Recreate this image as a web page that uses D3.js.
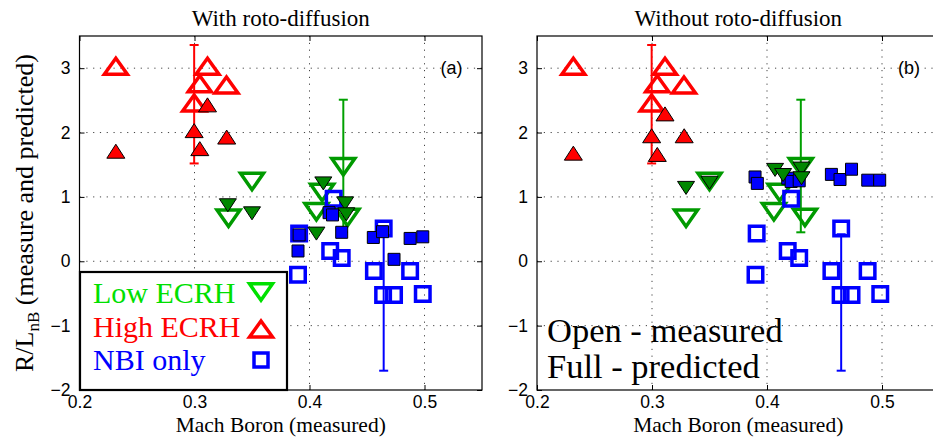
<!DOCTYPE html>
<html><head><meta charset="utf-8">
<script src="https://cdn.jsdelivr.net/npm/d3@7"></script>
<style>body{margin:0;background:#fff}svg{display:block}</style>
</head><body><svg id="chart" width="933" height="437"></svg>
<script>
// Axis ticks
const xTicks = [0.2, 0.3, 0.4, 0.5];
const yTicks = [-2, -1, 0, 1, 2, 3];
const panelTitles = ["With roto-diffusion", "Without roto-diffusion"];
const panelTags = ["(a)", "(b)"];

// Measured values (open markers), identical in both panels: [Mach, R/L_nB]
const lowEcrhMeasured  = [[0.3296,0.67],[0.350,1.24],[0.4294,1.47],[0.411,1.07],[0.406,0.77],[0.433,0.68]];
const highEcrhMeasured = [[0.2316,3.03],[0.3113,3.03],[0.3046,2.76],[0.3278,2.74],[0.2997,2.46]];
const nbiMeasured      = [[0.391,0.43],[0.390,-0.21],[0.418,0.16],[0.428,0.05],[0.421,0.97],[0.456,-0.15],
                          [0.4645,0.51],[0.464,-0.525],[0.4735,-0.525],[0.4875,-0.15],[0.4985,-0.51]];

// Predicted values with roto-diffusion (filled markers, panel a)
const lowEcrhPredA  = [[0.329,0.87],[0.350,0.745],[0.412,1.21],[0.431,0.90],[0.432,0.73],[0.406,0.43]];
const highEcrhPredA = [[0.3113,2.43],[0.2997,2.03],[0.328,1.93],[0.2316,1.71],[0.3046,1.75]];
const nbiPredA      = [[0.391,0.41],[0.390,0.16],[0.417,0.755],[0.420,0.72],[0.428,0.45],[0.4555,0.37],
                       [0.4635,0.46],[0.4735,0.03],[0.4875,0.355],[0.4985,0.38]];

// Predicted values without roto-diffusion (filled markers, panel b)
const lowEcrhPredB  = [[0.3296,1.14],[0.350,1.22],[0.407,1.42],[0.414,1.34],[0.430,1.44],[0.430,1.29]];
const highEcrhPredB = [[0.3113,2.29],[0.2997,1.95],[0.328,1.95],[0.2316,1.68],[0.3046,1.66]];
const nbiPredB      = [[0.3896,1.31],[0.3916,1.21],[0.418,1.29],[0.421,1.24],[0.428,1.25],[0.456,1.35],
                       [0.4635,1.27],[0.4735,1.43],[0.4876,1.26],[0.498,1.26]];

// Error bars: [Mach, low, high]
const highEcrhErr = [0.2997, 1.52, 3.36];
const lowEcrhErr  = [0.4294, 0.45, 2.51];
const nbiErr      = [0.4645, -1.70, 0.42];

const legendLabels = ["Low ECRH", "High ECRH", "NBI only"];
const noteLines = ["Open - measured", "Full - predicted"];

const RED = "#ff0000", GREEN_OPEN = "#009a00", GREEN_FULL = "#008800", BLUE = "#0000ff", GREEN_LEG = "#00e000";
const SERIF = "'Liberation Serif', 'Times New Roman', serif";
const SANS = "'Liberation Sans', Arial, sans-serif";

const svg = d3.select("#chart");
const plotTop = 36, plotBottom = 390;
const y = d3.scaleLinear().domain([-2, 3.5]).range([plotBottom, plotTop]);

// Marker path generators (centred on the origin)
const triUp = (w, h) => `M${-w/2},${h/2}L0,${-h/2}L${w/2},${h/2}Z`;
const triDown = (w, h) => `M${-w/2},${-h/2}L0,${h/2}L${w/2},${-h/2}Z`;
const square = s => `M${-s/2},${-s/2}h${s}v${s}h${-s}Z`;

function markers(g, x, data, d, fill, stroke, sw) {
  g.selectAll(null).data(data).enter().append("path")
    .attr("d", d)
    .attr("transform", p => `translate(${x(p[0])},${y(p[1])})`)
    .attr("fill", fill).attr("stroke", stroke).attr("stroke-width", sw)
    .attr("stroke-linejoin", "miter");
}

function errorBar(g, x, e, color) {
  const cx = x(e[0]);
  g.append("line").attr("x1", cx).attr("x2", cx).attr("y1", y(e[1])).attr("y2", y(e[2]))
    .attr("stroke", color).attr("stroke-width", 2);
  [e[1], e[2]].forEach(v => g.append("line").attr("x1", cx - 4.5).attr("x2", cx + 4.5)
    .attr("y1", y(v)).attr("y2", y(v)).attr("stroke", color).attr("stroke-width", 2));
}

function panel(left, right, idx, lowP, highP, nbiP) {
  const x = d3.scaleLinear().domain([0.2, 0.55]).range([left, right]);
  const g = svg.append("g");

  // dotted grid
  const grid = g.append("g").attr("stroke", "#444").attr("stroke-width", 1).attr("stroke-dasharray", "1.2,5.6");
  xTicks.slice(1).forEach(t => grid.append("line").attr("x1", x(t)).attr("x2", x(t)).attr("y1", plotTop).attr("y2", plotBottom));
  yTicks.slice(1).forEach(t => grid.append("line").attr("x1", left).attr("x2", right).attr("y1", y(t)).attr("y2", y(t)));

  // axes with inward ticks on all sides
  g.append("g").attr("transform", `translate(0,${plotBottom})`)
    .call(d3.axisBottom(x).tickValues(xTicks).tickSize(-5).tickPadding(6).tickFormat(d3.format(".1f")))
    .call(a => a.select(".domain").remove());
  g.append("g").attr("transform", `translate(0,${plotTop})`)
    .call(d3.axisTop(x).tickValues(xTicks).tickSize(-5).tickFormat(""))
    .call(a => a.select(".domain").remove());
  g.append("g").attr("transform", `translate(${left},0)`)
    .call(d3.axisLeft(y).tickValues(yTicks).tickSize(-5).tickPadding(9).tickFormat(d3.format("d")))
    .call(a => a.select(".domain").remove());
  g.append("g").attr("transform", `translate(${right},0)`)
    .call(d3.axisRight(y).tickValues(yTicks).tickSize(-5).tickFormat(""))
    .call(a => a.select(".domain").remove());
  g.selectAll(".tick text").attr("font-family", SANS).attr("font-size", 17.5).attr("fill", "#000");
  g.selectAll(".tick line").attr("stroke", "#000");

  // frame
  g.append("rect").attr("x", left).attr("y", plotTop).attr("width", right - left).attr("height", plotBottom - plotTop)
    .attr("fill", "none").attr("stroke", "#000").attr("stroke-width", 1.2);

  // title and x label
  g.append("text").attr("x", (left + right) / 2).attr("y", 26).attr("text-anchor", "middle")
    .attr("font-family", SERIF).attr("font-size", 23).text(panelTitles[idx]);
  g.append("text").attr("x", (left + right) / 2).attr("y", 432).attr("text-anchor", "middle")
    .attr("font-family", SERIF).attr("font-size", 21.5).text("Mach Boron (measured)");
  g.append("text").attr("x", x(0.5) + 16).attr("y", 74)
    .attr("font-family", SANS).attr("font-size", 18).text(panelTags[idx]);

  const m = g.append("g");
  errorBar(m, x, highEcrhErr, RED);
  errorBar(m, x, lowEcrhErr, "#00a000");
  errorBar(m, x, nbiErr, BLUE);
  markers(m, x, lowEcrhMeasured, triDown(23, 16.5), "none", GREEN_OPEN, 3.5);
  markers(m, x, highEcrhMeasured, triUp(23, 16), "none", RED, 3.5);
  markers(m, x, nbiMeasured, square(14.5), "none", BLUE, 3.5);
  markers(m, x, nbiP, square(12), BLUE, "#000", 1);
  markers(m, x, highP, triUp(18, 14), RED, "#000", 1);
  markers(m, x, lowP, triDown(17, 13), GREEN_FULL, "#000", 1);
  return x;
}

panel(79.5, 482, 0, lowEcrhPredA, highEcrhPredA, nbiPredA);
panel(537, 939.5, 1, lowEcrhPredB, highEcrhPredB, nbiPredB);

// y-axis label with subscript
const yl = svg.append("text").attr("transform", "translate(33,213) rotate(-90)").attr("text-anchor", "middle")
  .attr("font-family", SERIF).attr("font-size", 26);
yl.append("tspan").text("R/L");
yl.append("tspan").attr("font-size", 17).attr("dy", 6).text("nB");
yl.append("tspan").attr("dy", -6).text(" (measure and predicted)");

// legend in panel a
const leg = svg.append("g");
leg.append("rect").attr("x", 80).attr("y", 272).attr("width", 207).attr("height", 118)
  .attr("fill", "#fff").attr("stroke", "#000").attr("stroke-width", 2.2);
const legColors = [GREEN_LEG, RED, BLUE];
const legY = [303, 337, 370];
legendLabels.forEach((t, i) => leg.append("text").attr("x", 93).attr("y", legY[i])
  .attr("font-family", SERIF).attr("font-size", 30).attr("fill", legColors[i]).text(t));
leg.append("path").attr("d", triDown(23, 16.5)).attr("transform", "translate(261,292)")
  .attr("fill", "none").attr("stroke", GREEN_LEG).attr("stroke-width", 3.5);
leg.append("path").attr("d", triUp(23, 16)).attr("transform", "translate(261,329)")
  .attr("fill", "none").attr("stroke", RED).attr("stroke-width", 3.5);
leg.append("path").attr("d", square(14)).attr("transform", "translate(261,360)")
  .attr("fill", "none").attr("stroke", BLUE).attr("stroke-width", 3.5);

// note in panel b
noteLines.forEach((t, i) => svg.append("text").attr("x", 547).attr("y", 342 + i * 36)
  .attr("font-family", SERIF).attr("font-size", 34.5).text(t));
</script>
</body></html>
